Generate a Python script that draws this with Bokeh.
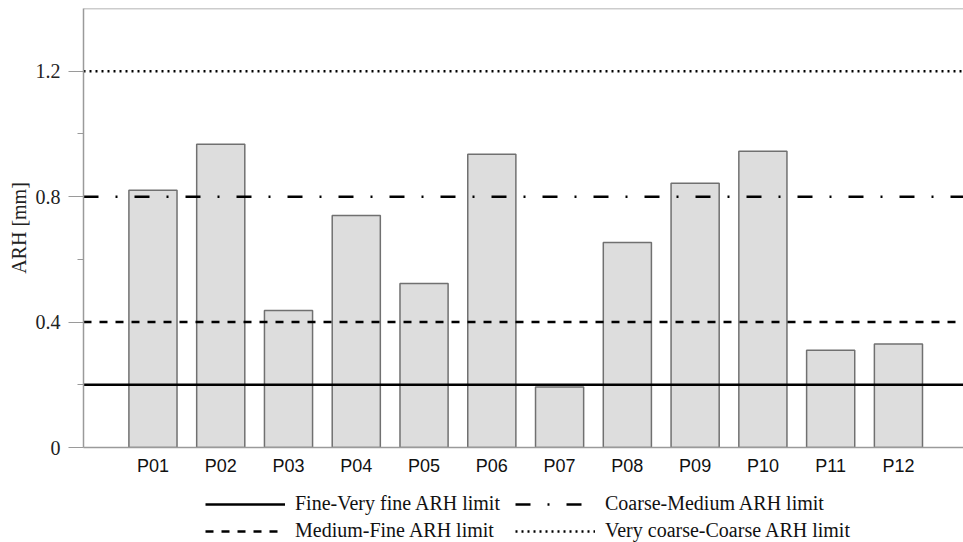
from bokeh.plotting import figure
from bokeh.layouts import column
from bokeh.models import Range1d, FixedTicker, Span, Legend, LegendItem, ColumnDataSource
from bokeh.embed import file_html
from bokeh.resources import INLINE

# ---- data ----
categories = ["P01", "P02", "P03", "P04", "P05", "P06",
              "P07", "P08", "P09", "P10", "P11", "P12"]
arh_mm = [0.820, 0.967, 0.437, 0.740, 0.523, 0.935,
          0.193, 0.654, 0.843, 0.945, 0.310, 0.330]

limit_names = ["Fine-Very fine ARH limit", "Coarse-Medium ARH limit",
               "Medium-Fine ARH limit", "Very coarse-Coarse ARH limit"]
limit_values = [0.2, 0.8, 0.4, 1.2]
limit_dashes = ["solid", "15 17 2 17", "8 8", "2 4"]

y_ticks = [0, 0.4, 0.8, 1.2]
y_minor_ticks = [0.2, 0.6, 1.0]
y_tick_labels = ["0", "0.4", "0.8", "1.2"]

# ---- layout constants ----
XMIN, XMAX = -0.025, 12.96
YMIN, YMAX = 0.0, 1.4
SERIF = "Liberation Serif"
SANS = "Liberation Sans"
GREY = "#9a9a9a"
LINE_W = 2.5

positions = list(range(1, len(categories) + 1))
src = ColumnDataSource(dict(x=positions, top=arh_mm, cat=categories))

p = figure(width=963, height=482, output_backend="svg", toolbar_location=None,
           x_range=Range1d(XMIN, XMAX), y_range=Range1d(YMIN, YMAX),
           min_border_left=83, min_border_right=0, min_border_top=8,
           min_border_bottom=35)

p.outline_line_color = None
p.xgrid.visible = False
p.ygrid.visible = False
p.background_fill_color = "white"
p.border_fill_color = "white"

p.vbar(x="x", top="top", bottom=0, width=0.71, source=src,
       fill_color="#dddddd", line_color="#707070", line_width=1.5)

for val, dash in zip(limit_values, limit_dashes):
    p.line(x=[XMIN, XMAX], y=[val, val], line_color="black",
           line_width=LINE_W, line_dash=dash)

# top frame line
p.add_layout(Span(location=YMAX, dimension="width", line_color=GREY, line_width=1.5))

# y axis
ya = p.yaxis[0]
ya.ticker = FixedTicker(ticks=y_ticks, minor_ticks=y_minor_ticks)
ya.major_label_overrides = {t: l for t, l in zip(y_ticks, y_tick_labels)}
ya.axis_label = "ARH [mm]"
ya.axis_label_text_font = SERIF
ya.axis_label_text_font_style = "normal"
ya.axis_label_text_font_size = "20px"
ya.axis_label_text_color = "#222222"
ya.axis_label_standoff = 3
ya.major_label_text_font = SERIF
ya.major_label_text_font_size = "20px"
ya.major_label_text_color = "#222222"
ya.major_label_standoff = 8
ya.major_tick_out = 15
ya.major_tick_in = 0
ya.minor_tick_out = 6
ya.minor_tick_in = 0
ya.axis_line_color = GREY
ya.axis_line_width = 1.5
ya.major_tick_line_color = GREY
ya.minor_tick_line_color = GREY

# x axis
xa = p.xaxis[0]
xa.ticker = FixedTicker(ticks=positions)
xa.major_label_overrides = {x: c for x, c in zip(positions, categories)}
xa.major_label_text_font = SANS
xa.major_label_text_font_size = "18px"
xa.major_label_text_color = "#111111"
xa.major_label_standoff = 8
xa.major_tick_line_color = None
xa.minor_tick_line_color = None
xa.major_tick_out = 0
xa.axis_line_color = GREY
xa.axis_line_width = 1.5

# ---- legend strip (separate figure below the chart) ----
pl = figure(width=963, height=60, output_backend="svg", toolbar_location=None,
            x_range=Range1d(0, 1), y_range=Range1d(100, 101),
            min_border_left=0, min_border_right=0, min_border_top=0,
            min_border_bottom=0)
pl.axis.visible = False
pl.xgrid.visible = False
pl.ygrid.visible = False
pl.outline_line_color = None
pl.background_fill_color = "white"
pl.border_fill_color = "white"

leg_renderers = []
for val, dash in zip(limit_values, limit_dashes):
    # same limit lines; lie outside this strip's visible range, used as legend glyphs
    r = pl.line(x=[0, 1], y=[val, val], line_color="black",
                line_width=LINE_W, line_dash=dash)
    leg_renderers.append(r)

legend = Legend(items=[LegendItem(label=n, renderers=[r]) for n, r in zip(limit_names, leg_renderers)],
                ncols=2, orientation="horizontal", location=(122, 0),
                border_line_color=None, background_fill_alpha=0,
                glyph_width=80, glyph_height=20, label_standoff=10,
                label_width=216, spacing=4, padding=0, margin=0,
                label_text_font=SERIF, label_text_font_size="20px",
                label_text_color="#111111")
pl.add_layout(legend)

layout = column(p, pl, spacing=0)
open("out.html", "w").write(file_html(layout, INLINE))
